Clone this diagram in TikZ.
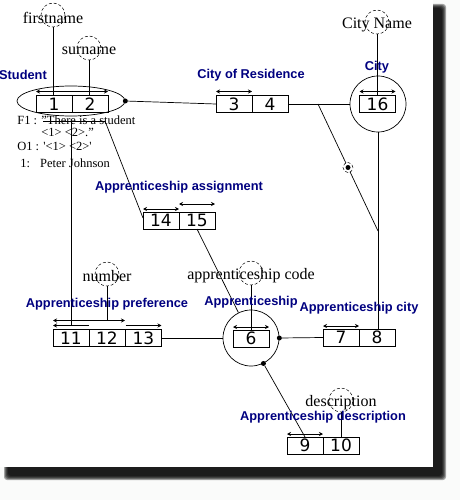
\documentclass[tikz,border=0pt]{standalone}
\usepackage{fontspec}
\setmainfont{Liberation Serif}
\setsansfont{Liberation Sans}
\newfontfamily\digfont{DejaVu Sans}
\usetikzlibrary{shapes.geometric,arrows.meta,positioning}
\definecolor{navy}{RGB}{0,0,128}
\definecolor{paper}{RGB}{250,251,250}

\begin{document}
\begin{tikzpicture}[x=1pt,y=-1pt,line width=.7pt,
 role/.style={draw,minimum width=36pt,minimum height=17pt,inner sep=0,outer sep=0,font=\digfont\fontsize{17}{17}\selectfont},
 ent/.style={draw,circle,minimum size=56pt,inner sep=0},
 valcirc/.style={draw,densely dashed,circle,minimum size=24pt,inner sep=0,line width=.5pt},
 valtext/.style={font=\fontsize{16}{16}\selectfont,yshift=-2.5pt},
 lbl/.style={text=navy,font=\sffamily\bfseries\fontsize{12.8}{13}\selectfont},
 txt/.style={anchor=west,inner sep=0,font=\fontsize{12.5}{13}\selectfont},
 uc/.style={arrows={Stealth[length=4pt,width=4pt]-Stealth[length=4pt,width=4pt]}},
 ucl/.style={arrows={Stealth[length=4pt,width=4pt]-}},
 ucr/.style={arrows={-Stealth[length=4pt,width=4pt]}},
 dot/.style={circle,fill,inner sep=0,minimum size=5pt},
 ring/.style={circle,draw,densely dashed,fill=white,minimum size=10pt,inner sep=0,line width=.5pt}]
\useasboundingbox (0,0) rectangle (460,500);
% frame with shadow
\fill[paper] (0,0) rectangle (460,500);
\foreach \i in {0,...,4}
 \fill[black,opacity=.35,rounded corners=3pt] ({4+\i},{4+\i}) rectangle ({446-\i},{480-\i});
\fill[white] (0,0) rectangle (433,467);

% value types
\foreach \n/\x/\y/\t in {fn/53/15/firstname,sn/89/48/surname,cn/377/22/City Name,nb/107/274/number,ac/251/273/apprenticeship code,ds/341/400/description}
{\node[valcirc] (\n) at (\x,\y) {};
 \node[valtext] at (\x,\y) {\t};
}

% entity types
\node[draw,ellipse,minimum width=108pt,minimum height=30pt] (student) at (71,101) {};
\node[ent] (city) at (378,104) {};
\node[ent] (appr) at (251,338) {};

% roles
\foreach \n/\x/\y in {1/54/104,2/90/104,3/234/104,4/270/104,16/377.5/104,14/161/220.5,15/197/220.5,11/71/338,12/107/338,13/143.5/338,6/251/338.5,7/341/337.5,8/377/337.5,9/305/445.5,10/341/445.5}
 \node[role] (r\n) at (\x,\y) {\n};

% uniqueness constraints
\draw[uc] ([yshift=4pt]r1.north west) -- ([yshift=4pt]r2.north east);
\draw[uc] ([yshift=4pt]r3.north west) -- ([yshift=4pt]r3.north east);
\draw[uc] ([yshift=4pt]r16.north west) -- ([yshift=4pt]r16.north east);
\draw[uc] ([yshift=3pt]r14.north west) -- ([yshift=3pt]r14.north east);
\draw[uc] ([yshift=8pt]r15.north west) -- ([yshift=8pt]r15.north east);
\draw[uc] ([yshift=9pt]r11.north west) -- ([yshift=9pt]r12.north east);
\draw[ucl] ([yshift=4pt]r11.north west) -- ([yshift=4pt]r11.north east);
\draw[ucr] ([yshift=4pt]r13.north west) -- ([yshift=4pt]r13.north east);
\draw[uc] ([yshift=3pt]r6.north west) -- ([yshift=3pt]r6.north east);
\draw[uc] ([yshift=3pt]r7.north west) -- ([yshift=3pt]r7.north east);
\draw[uc] ([yshift=3pt]r9.north west) -- ([yshift=3pt]r9.north east);

% connectors
\draw (fn) -- (fn |- r1.north);
\draw (sn) -- (sn |- r2.north);
\draw (cn) -- (cn |- r16.north);
\draw (nb) -- ([yshift=9pt]nb |- r12.north);
\draw (ac) -- (ac |- r6.north);
\draw (ds) -- (ds |- r10.north);

\node[dot] (sd) at (student.east) {};
\draw (sd) -- (r3.west);
\draw (r4.east) -- (city);
\draw (city.south) -- (city.south |- r8.north);
\coordinate (j1) at (318,104);
\coordinate (j2) at (378,231);
\draw (j1) -- node[ring] (rg) {} (j2);
\fill (rg) circle (2.5pt);

\coordinate (sa) at (43,121);
\coordinate (sb) at (105,121);
\draw (sa) -- (sb);
\draw (sa -| r11.north) -- ([yshift=4pt]r11.north);
\draw (sb) -- ([yshift=2.5pt]r14.west);

\draw (r15.south) -- (appr);
\draw (r13.east) -- (appr);
\node[dot] (ad1) at (appr.east) {};
\draw (ad1) -- (r7.west);
\node[dot] (ad2) at (appr.-64) {};
\draw (ad2) -- (r9.north);

% labels
\node[lbl] (l1) at (23,75) {Student};
\node[lbl] (l2) at (251,75) {City of Residence};
\node[lbl] (l3) at (377,67) {City};
\node[lbl] (l4) at (179,187) {Apprenticeship assignment};
\node[lbl] (l5) at (107,304) {Apprenticeship preference};
\node[lbl] (l6) at (251,302) {Apprenticeship};
\node[lbl] (l7) at (359,308) {Apprenticeship city};
\node[lbl] (l8) at (323,417) {Apprenticeship description};

% population
\node[txt] (f1) at (17,120) {F1 : "There is a student};
\node[txt] (f2) at (41,132) {<1> <2>."};
\node[txt] (o1) at (17,146) {O1 : \textquotesingle<1> <2>\textquotesingle};
\node[txt] (p1) at (20,163) {1:\hspace{10pt}Peter Johnson};
\end{tikzpicture}
\end{document}
